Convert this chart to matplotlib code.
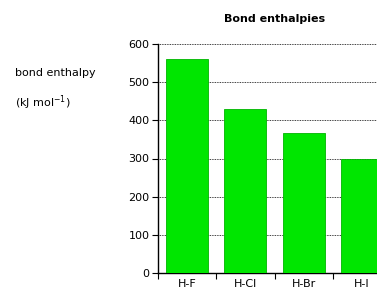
import numpy as np
import matplotlib
matplotlib.use('Agg')
from matplotlib import pyplot as plt

# bond enthalpy data (kJ/mol)
bonds = ['H-F', 'H-Cl', 'H-Br', 'H-I']
enthalpy = [562, 431, 366, 299]
yticks = [0, 100, 200, 300, 400, 500, 600]

plt.rcParams['font.family'] = ['DejaVu Sans']

fig = plt.figure(figsize=(3.77, 2.88), dpi=100)
ax = fig.add_axes([158/377, 15/288, 233/377, 229/288])

x = np.arange(len(bonds))
ax.bar(x, enthalpy, width=0.72, color='#00e600', edgecolor='#00b400', linewidth=0.6, zorder=3)

ax.set_xlim(-0.5, len(bonds) - 0.5)
ax.set_ylim(0, 600)
ax.set_yticks(yticks)
ax.set_yticklabels([str(v) for v in yticks], fontsize=8)
ax.set_xticks(x)
ax.set_xticklabels(bonds, fontsize=8)
ax.set_xticks(np.arange(len(bonds)) - 0.5, minor=True)
ax.tick_params(axis='x', which='major', length=0, pad=4)
ax.tick_params(axis='x', which='minor', length=4, direction='out', width=0.8)
ax.tick_params(axis='y', length=4, width=0.8, pad=2)

#dotted gridlines
ax.yaxis.grid(True, linestyle=(0, (1, 1)), color='black', linewidth=0.6, zorder=0)
ax.spines['top'].set_visible(False)
ax.spines['right'].set_visible(False)
ax.spines['left'].set_linewidth(1.0)
ax.spines['bottom'].set_linewidth(1.0)

ax.set_title('Bond enthalpies', fontsize=8, fontweight='bold', pad=16)

fig.text(15/377, 1 - 73/288, 'bond enthalpy', fontsize=8, va='center', ha='left')
fig.text(15/377, 1 - 103/288, '(kJ mol$^{-1}$)', fontsize=8, va='center', ha='left')

fig.savefig('out.png', dpi=100)
